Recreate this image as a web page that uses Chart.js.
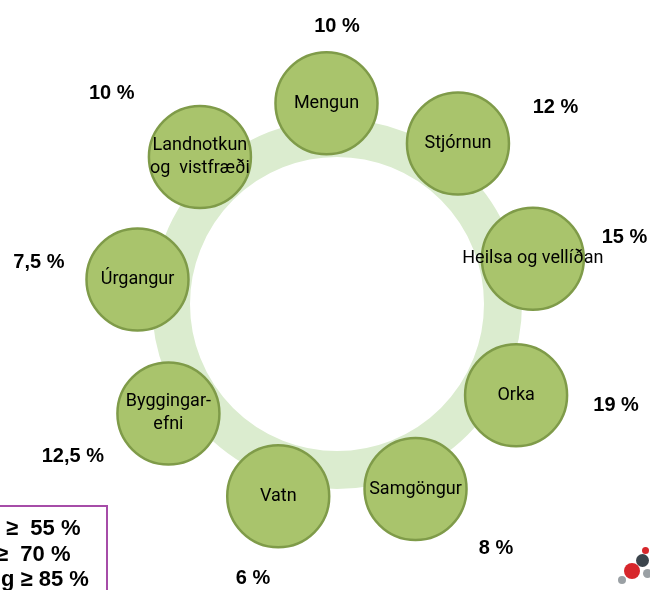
<!DOCTYPE html>
<html lang="is">
<head>
<meta charset="utf-8">
<title>Málaflokkar</title>
<script src="https://cdn.jsdelivr.net/npm/chart.js@4.4.1/dist/chart.umd.min.js"></script>
<style>
    html, body { margin: 0; padding: 0; background: #fff; }
    body { width: 650px; height: 590px; overflow: hidden; position: relative; }
    #wrap { position: absolute; left: 0; top: 0; width: 650px; height: 590px; }
    .limits {
        position: absolute; left: -60px; top: 505px; width: 168px; height: 140px;
        border: 2px solid #a64ca8; box-sizing: border-box;
    }
    .limits div {
        position: absolute; white-space: pre; line-height: normal;
        font: bold 22px "Liberation Sans", Arial, sans-serif; color: #000;
    }
    .dot { position: absolute; border-radius: 50%; }
</style>
</head>
<body>
<div id="wrap"><canvas id="topicChart" width="650" height="590"></canvas></div>

<div class="limits">
    <div style="left:64px; top:8px;">≥  55 %</div>
    <div style="left:54px; top:34px;">≥  70 %</div>
    <div style="left:59px; top:59px;">g ≥ 85 %</div>
</div>

<div class="dot" style="left:642px; top:547px; width:7px; height:7px; background:#d7262b;"></div>
<div class="dot" style="left:636px; top:554px; width:13px; height:13px; background:#3b444c;"></div>
<div class="dot" style="left:624px; top:563px; width:16px; height:16px; background:#d7262b;"></div>
<div class="dot" style="left:643px; top:569px; width:9px; height:9px; background:#9aa0a4;"></div>
<div class="dot" style="left:618px; top:576px; width:8px; height:8px; background:#9aa0a4;"></div>

<script>
const topics = [
    'Mengun',
    'Stjórnun',
    'Heilsa og vellíðan',
    'Orka',
    'Samgöngur',
    'Vatn',
    'Byggingar-\nefni',
    'Úrgangur',
    'Landnotkun\nog  vistfræði'
];
const shares = [10, 12, 15, 19, 8, 6, 12.5, 7.5, 10];
const shareLabels = shares.map(v => String(v).replace('.', ',') + ' %');

// the circles sit evenly on the ring, 1 scale unit = 1 px
const ringDistance = 201;

const topicLabels = {
    id: 'topicLabels',
    afterDatasetsDraw(chart, args, opts) {
        const ctx = chart.ctx;
        const scale = chart.scales.r;
        const points = chart.getDatasetMeta(0).data;

        ctx.save();
        ctx.textAlign = 'center';
        ctx.textBaseline = 'middle';
        ctx.fillStyle = '#000';

        ctx.font = '18px Roboto, "Noto Sans", sans-serif';
        points.forEach((pt, i) => {
            const lines = topics[i].split('\n');
            lines.forEach((line, k) => {
                const y = pt.y + (k - (lines.length - 1) / 2) * opts.lineHeight;
                ctx.fillText(line, pt.x, y);
            });
        });

        ctx.font = 'bold 20px "Liberation Sans", Arial, sans-serif';
        shareLabels.forEach((txt, i) => {
            const turn = opts.labelTurn[i] * Math.PI / 180;
            const pos = scale.getPointPosition(i, opts.labelDist[i], turn);
            ctx.fillText(txt, pos.x, pos.y);
        });
        ctx.restore();
    }
};

new Chart(document.getElementById('topicChart'), {
    type: 'radar',
    data: {
        labels: topics,
        datasets: [{
            data: topics.map(() => ringDistance),
            borderWidth: 0,
            fill: false,
            pointRadius: 51,
            pointHoverRadius: 51,
            pointBackgroundColor: '#a9c46c',
            pointBorderColor: '#7f9b49',
            pointBorderWidth: 2.5,
            pointHoverBorderWidth: 2.5
        }]
    },
    options: {
        responsive: false,
        animation: false,
        events: [],
        layout: { padding: { left: 24, top: 18, right: 0, bottom: 0 } },
        scales: {
            r: {
                min: 0,
                max: 286,
                startAngle: -3,
                afterBuildTicks: axis => {
                    axis.ticks = [{ value: 0 }, { value: 166 }];
                },
                ticks: { display: false },
                pointLabels: { display: false },
                angleLines: { display: false },
                grid: {
                    circular: true,
                    color: '#dbeccf',
                    lineWidth: 38
                }
            }
        },
        plugins: {
            legend: { display: false },
            tooltip: { enabled: false },
            topicLabels: {
                lineHeight: 23,
                labelDist: [278, 294, 295, 297, 292, 287, 305, 301, 308],
                labelTurn: [3, 11, 0, -7, -10, 0, 3, 1, -4]
            }
        }
    },
    plugins: [topicLabels]
});
</script>
</body>
</html>
